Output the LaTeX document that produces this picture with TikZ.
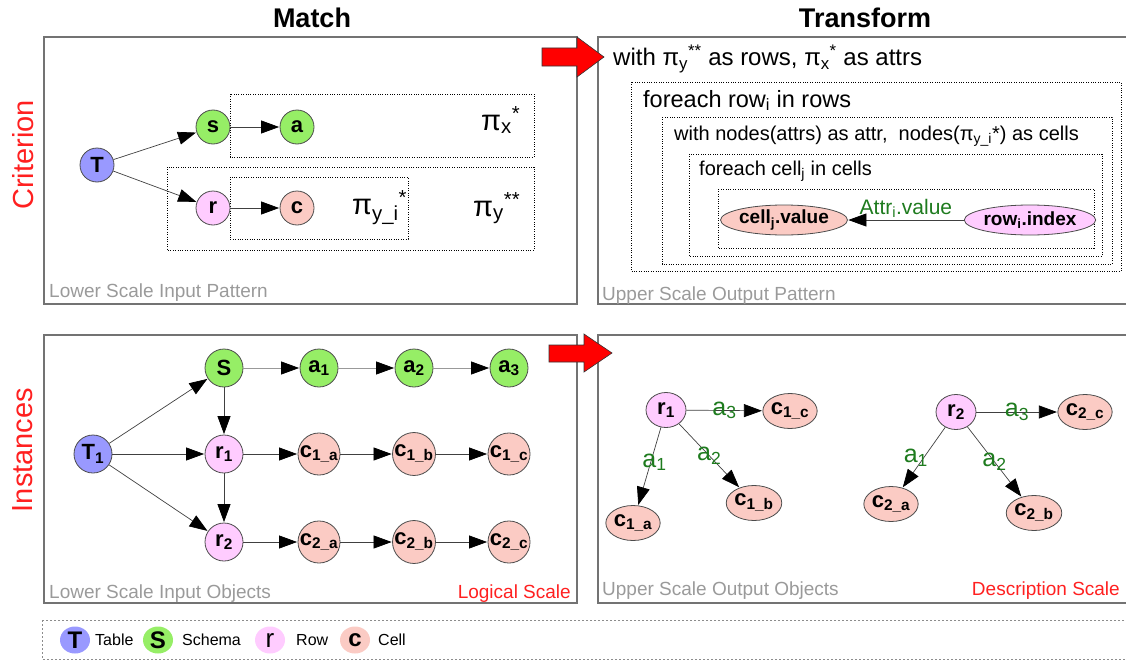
\documentclass[tikz,border=0pt]{standalone}
\usepackage{fontspec}
\setmainfont{Liberation Sans}
\usetikzlibrary{arrows.meta,shapes.geometric}
\newcommand{\fsz}[1]{\fontsize{#1}{#1}\selectfont}
\definecolor{tblue}{HTML}{9999FF}
\definecolor{sgreen}{HTML}{96EE66}
\definecolor{rpink}{HTML}{FFCCFF}
\definecolor{ccoral}{HTML}{FBCBC4}
\definecolor{dgreen}{HTML}{1E7B1E}
\definecolor{lgray}{HTML}{9A9A9A}
\definecolor{hred}{HTML}{FF2020}
\begin{document}
\begin{tikzpicture}[x=1pt,y=-1pt,
  panel/.style={draw=black!55,line width=1.2pt},
  dotbox/.style={draw=black,line width=0.7pt,dash pattern=on 0.8pt off 1.6pt},
  nd/.style={circle,draw=black!70,line width=0.8pt,inner sep=0pt,font=\fsz{22}\bfseries},
  pt/.style={nd,minimum size=34pt},
  it/.style={nd,minimum size=38pt},
  ot/.style={ellipse,draw=black!70,line width=0.8pt,inner sep=0pt,minimum width=40pt,minimum height=35pt,font=\fsz{22}\bfseries},
  edge/.style={draw=black!75,line width=0.7pt,-{Triangle[length=18pt,width=13pt,color=black]},shorten >=0.5pt},
  ledge/.style={edge,draw=black!40},
  elab/.style={font=\fsz{25},text=dgreen,inner sep=0pt},
  graylab/.style={font=\fsz{19},text=lgray,inner sep=0pt},
  redlab/.style={font=\fsz{19},text=hred,inner sep=0pt},
  redarrow/.style={fill=red,draw=black!80,line width=0.6pt},
  legnd/.style={ellipse,inner sep=0pt,minimum width=30pt,minimum height=27pt,font=\fsz{24}\bfseries},
  legtxt/.style={anchor=west,font=\fsz{16},inner sep=0pt}
]
\useasboundingbox (0,0) rectangle (1126,661);

% titles
\node[font=\fsz{27}\bfseries] (tmatch) at (312,18) {Match};
\node[font=\fsz{27}\bfseries] (ttrans) at (865,18) {Transform};
\node[rotate=90,font=\fsz{29},text=hred] (tcrit) at (23,155) {Criterion};
\node[rotate=90,font=\fsz{29},text=hred] (tinst) at (23,450) {Instances};

% panels
\draw[panel] (44,37) rectangle (577,304);
\draw[panel] (598,37) rectangle (1130,304);
\draw[panel] (44,335) rectangle (577,603);
\draw[panel] (598,335) rectangle (1130,603);

% ---------- top-left: input pattern
\draw[dotbox] (230,94) rectangle (534,157);
\draw[dotbox] (167,167) rectangle (534,250);
\draw[dotbox] (230,177) rectangle (408,239);
\node[pt,fill=tblue] (T) at (97,165) {T};
\node[pt,fill=sgreen] (s) at (213,127) {s};
\node[pt,fill=sgreen] (a) at (297,127) {a};
\node[pt,fill=rpink] (r) at (213,208) {r};
\node[pt,fill=ccoral] (c) at (297,208) {c};
\draw[edge] (T) -- (s);
\draw[edge] (T) -- (r);
\draw[edge] (s) -- (a);
\draw[edge] (r) -- (c);
\node[anchor=base west,font=\fsz{29},inner sep=0pt] (pix) at (481,130) {π\textsubscript{x}\textsuperscript{*}};
\node[anchor=base west,font=\fsz{29},inner sep=0pt] (piyi) at (352,214) {π\textsubscript{y\_i}\textsuperscript{*}};
\node[anchor=base west,font=\fsz{29},inner sep=0pt] (piy) at (473,216) {π\textsubscript{y}\textsuperscript{**}};
\node[graylab,anchor=base west] (lsip) at (49,297) {Lower Scale Input Pattern};

% ---------- top-right: output pattern
\draw[dotbox] (631,82) rectangle (1121,271);
\draw[dotbox] (662,117) rectangle (1112,264);
\draw[dotbox] (689,154) rectangle (1102,256);
\draw[dotbox] (718,189) rectangle (1094,248);
\node[anchor=base west,font=\fsz{24},inner sep=0pt] (w1) at (613,66) {with π\textsubscript{y}\textsuperscript{**} as rows, π\textsubscript{x}\textsuperscript{*} as attrs};
\node[anchor=base west,font=\fsz{23.5},inner sep=0pt] (f1) at (643,107) {foreach row\textsubscript{i} in rows};
\node[anchor=base west,font=\fsz{20},inner sep=0pt] (w2) at (674,140) {with nodes(attrs) as attr,\ \ nodes(π\textsubscript{y\_i}*) as cells};
\node[anchor=base west,font=\fsz{20},inner sep=0pt] (f2) at (699,175) {foreach cell\textsubscript{j} in cells};
\node[ellipse,draw=black!70,line width=0.8pt,fill=ccoral,inner sep=0pt,minimum width=102pt,minimum height=30pt,font=\fsz{19}\bfseries] (cellv) at (784,220) {cell\textsubscript{j}.value};
\node[ellipse,draw=black!70,line width=0.8pt,fill=rpink,inner sep=0pt,minimum width=110pt,minimum height=30pt,font=\fsz{19}\bfseries] (rowi) at (1030,220) {row\textsubscript{i}.index};
\draw[edge] (rowi) -- node[above=2pt,font=\fsz{21},text=dgreen,inner sep=0pt] {Attr\textsubscript{i}.value} (cellv);
\node[graylab,anchor=base west] (usop) at (602,300) {Upper Scale Output Pattern};

% red arrows
\draw[redarrow] (542,48) -- (577,48) -- (577,37) -- (604,57) -- (577,77) -- (577,66) -- (542,66) -- cycle;
\draw[redarrow] (549,345) -- (584,345) -- (584,334) -- (612,353) -- (584,372) -- (584,362) -- (549,362) -- cycle;

% ---------- bottom-left: input objects
\node[it,fill=tblue] (T1) at (93,454) {T\textsubscript{1}};
\node[it,fill=sgreen] (S) at (224,368) {S};
\node[it,fill=sgreen] (a1) at (319,368) {a\textsubscript{1}};
\node[it,fill=sgreen] (a2) at (414,368) {a\textsubscript{2}};
\node[it,fill=sgreen] (a3) at (509,368) {a\textsubscript{3}};
\node[it,fill=rpink] (r1) at (224,454) {r\textsubscript{1}};
\node[it,fill=ccoral] (c1a) at (319,454) {c\textsubscript{1\_a}};
\node[it,fill=ccoral] (c1b) at (414,454) {c\textsubscript{1\_b}};
\node[it,fill=ccoral] (c1c) at (509,454) {c\textsubscript{1\_c}};
\node[it,fill=rpink] (r2) at (224,542) {r\textsubscript{2}};
\node[it,fill=ccoral] (c2a) at (319,542) {c\textsubscript{2\_a}};
\node[it,fill=ccoral] (c2b) at (414,542) {c\textsubscript{2\_b}};
\node[it,fill=ccoral] (c2c) at (509,542) {c\textsubscript{2\_c}};
\draw[edge] (T1) -- (S);
\draw[edge] (T1) -- (r1);
\draw[edge] (T1) -- (r2);
\draw[edge] (S) -- (r1);
\draw[edge] (r1) -- (r2);
\draw[ledge] (S) -- (a1);
\draw[ledge] (a1) -- (a2);
\draw[ledge] (a2) -- (a3);
\draw[edge] (r1) -- (c1a);
\draw[edge] (c1a) -- (c1b);
\draw[edge] (c1b) -- (c1c);
\draw[edge] (r2) -- (c2a);
\draw[edge] (c2a) -- (c2b);
\draw[edge] (c2b) -- (c2c);
\node[graylab,anchor=base west] (lsio) at (49,598) {Lower Scale Input Objects};
\node[redlab,anchor=base east] (logs) at (571,598) {Logical Scale};

% ---------- bottom-right: output objects
\node[ot,fill=rpink] (or1) at (666,410) {r\textsubscript{1}};
\node[ot,fill=ccoral] (oc1c) at (790,411) {c\textsubscript{1\_c}};
\node[ot,fill=ccoral] (oc1a) at (633,523) {c\textsubscript{1\_a}};
\node[ot,fill=ccoral] (oc1b) at (754,503) {c\textsubscript{1\_b}};
\node[ot,fill=rpink] (or2) at (956,412) {r\textsubscript{2}};
\node[ot,fill=ccoral] (oc2c) at (1085,412) {c\textsubscript{2\_c}};
\node[ot,fill=ccoral] (oc2a) at (891,504) {c\textsubscript{2\_a}};
\node[ot,fill=ccoral] (oc2b) at (1034,513) {c\textsubscript{2\_b}};
\draw[edge] (or1) -- node[elab] {a\textsubscript{3}} (oc1c);
\draw[edge] (or1) -- node[elab,xshift=5pt,yshift=4pt] {a\textsubscript{1}} (oc1a);
\draw[edge] (or1) -- node[elab] {a\textsubscript{2}} (oc1b);
\draw[edge] (or2) -- node[elab] {a\textsubscript{3}} (oc2c);
\draw[edge] (or2) -- node[elab,xshift=-8pt] {a\textsubscript{1}} (oc2a);
\draw[edge] (or2) -- node[elab] {a\textsubscript{2}} (oc2b);
\node[graylab,anchor=base west] (usoo) at (602,595) {Upper Scale Output Objects};
\node[redlab,anchor=base east] (descs) at (1120,595) {Description Scale};

% ---------- legend
\draw[draw=black!45,line width=0.8pt,dash pattern=on 2pt off 2pt] (42,620) rectangle (1130,659);
\node[legnd,fill=tblue] (lT) at (75,640) {T};
\node[legtxt] (lTt) at (95,640) {Table};
\node[legnd,fill=sgreen] (lS) at (158,640) {S};
\node[legtxt] (lSt) at (182,640) {Schema};
\node[legnd,fill=rpink,font=\fsz{26}] (lr) at (270,640) {r};
\node[legtxt] (lrt) at (296,640) {Row};
\node[legnd,fill=ccoral] (lc) at (355,640) {c};
\node[legtxt] (lct) at (378,640) {Cell};
\end{tikzpicture}
\end{document}
